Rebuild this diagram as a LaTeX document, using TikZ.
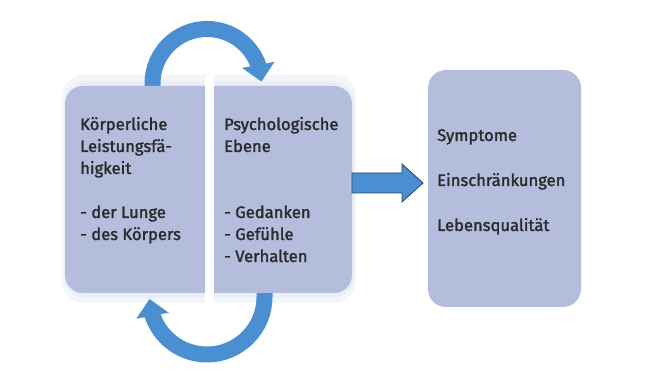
\documentclass[tikz,border=0pt]{standalone}
\usepackage{fontspec}
\newfontfamily\labfont{Fira Sans}[BoldFont={Fira Sans},BoldFeatures={FakeBold=1.6}]
\usetikzlibrary{arrows.meta,bending}
\definecolor{boxfill}{HTML}{B4BEDC}
\definecolor{halo}{HTML}{CFDBEF}
\definecolor{arrowblue}{HTML}{4A8FD1}
\definecolor{arrowedge}{HTML}{2C4466}
\definecolor{txt}{HTML}{2A2A2A}
\tikzset{
  boxstyle/.style={fill=boxfill, rounded corners=18pt},
  halostyle/.style={fill=halo, opacity=0.25, rounded corners=22pt},
  cyclearrow/.style={draw=arrowblue, line width=16pt, -{Triangle[width=32pt,length=17pt]}},
  labelstyle/.style={inner sep=0pt, anchor=base west, text=txt, font=\labfont\bfseries\fontsize{16.6}{22}\selectfont},
}
\begin{document}
\begin{tikzpicture}[x=1pt,y=1pt]
\useasboundingbox (0,0) rectangle (648,371);
\fill[white] (0,0) rectangle (648,371);
% halos
\fill[halostyle] (62,68) rectangle (356,296);
\fill[halostyle] (64,73) rectangle (354,290);
% cycle arrows (behind boxes)
\coordinate (topstart) at (152.5,282);
\coordinate (botstart) at (264.5,80);
\draw[cyclearrow] (topstart) -- ++(0,5.5) arc[start angle=180, end angle=2, radius=54.5];
\draw[cyclearrow] (botstart) -- ++(0,-6) arc[start angle=0, end angle=-178, radius=57.5];
% boxes
\path[boxstyle] (65,78) rectangle (352,285) node[pos=0.5, inner sep=0] (lbox) {};
\path[boxstyle] (428,64) rectangle (581,301) node[pos=0.5, inner sep=0] (rbox) {};
\fill[white] (205,66) rectangle (214,296) node[pos=0.5, inner sep=0] (divider) {};
% block arrow
\coordinate (ba) at (352,188);
\filldraw[fill=arrowblue, draw=arrowedge, line width=0.8pt, line join=miter]
  (ba) ++(0,-10) -- ++(50,0) -- ++(0,-9) -- ++(21,19) -- ++(-21,19) -- ++(0,-9) -- ++(-50,0) -- cycle;
% texts
\node[labelstyle] (ltext) at (80,241) {\begin{tabular}[t]{@{}l@{}}K\"orperliche\\Leistungsf\"a-\\higkeit\\[22pt]- der Lunge\\- des K\"orpers\end{tabular}};
\node[labelstyle] (mtext) at (224,241) {\begin{tabular}[t]{@{}l@{}}Psychologische\\Ebene\\[44pt]- Gedanken\\- Gef\"uhle\\- Verhalten\end{tabular}};
\node[labelstyle] (rtext) at (437,230) {\begin{tabular}[t]{@{}l@{}}Symptome\\[23pt]Einschr\"ankungen\\[23pt]Lebensqualit\"at\end{tabular}};
\end{tikzpicture}
\end{document}
